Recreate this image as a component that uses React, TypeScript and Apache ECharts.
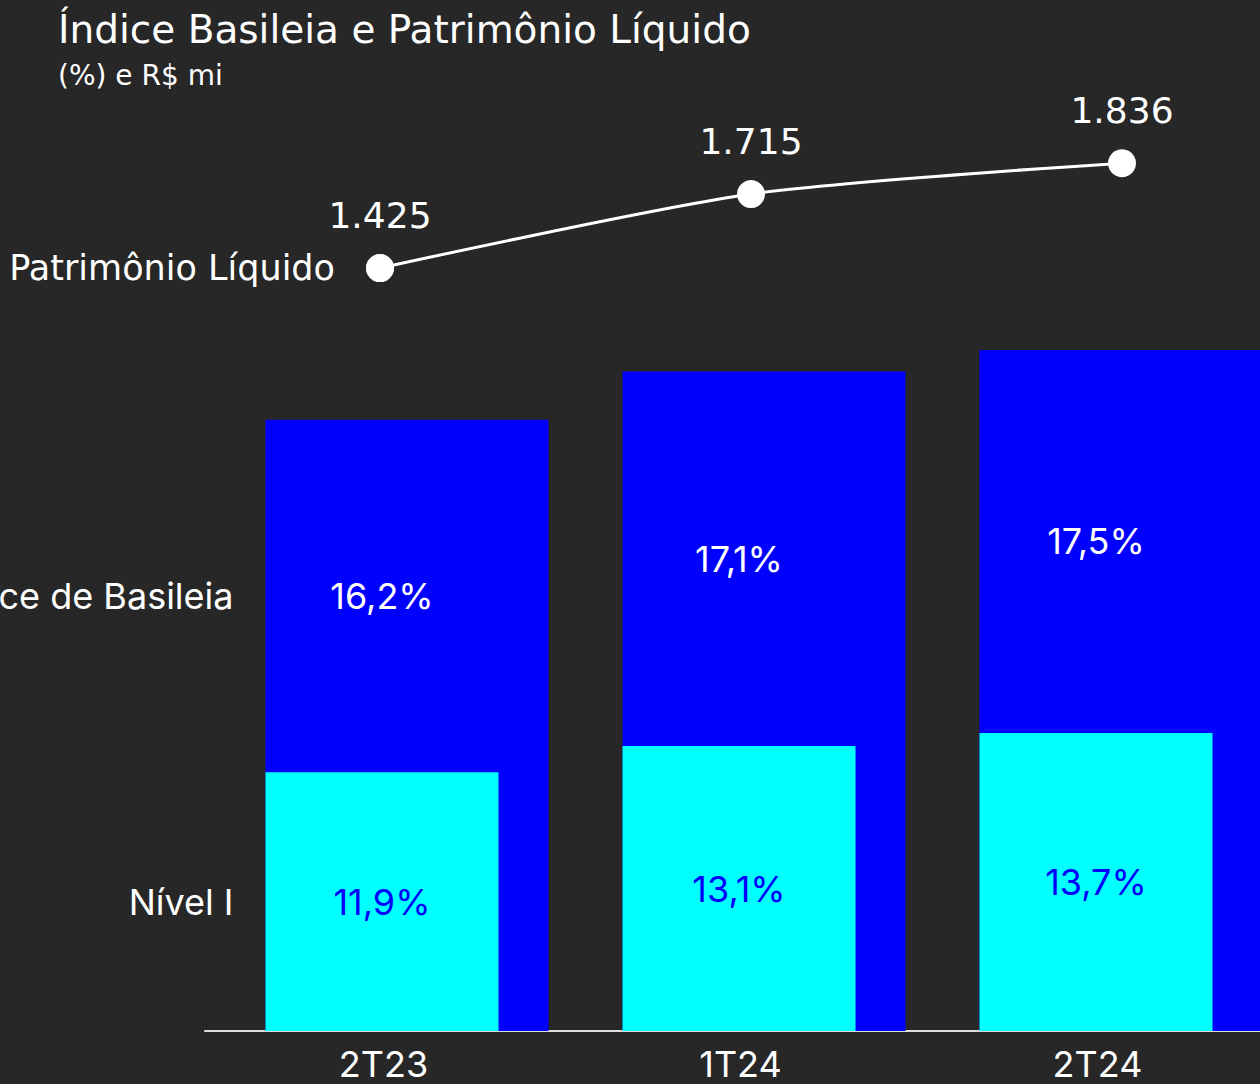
import React, { useEffect, useRef } from "react";
import * as echarts from "echarts";

const CATEGORIES = ["2T23", "1T24", "2T24"];
const SERIES_NAMES = ["Índice de Basileia", "Nível I", "Patrimônio Líquido"];
const BASILEIA = [16.2, 17.1, 17.5];
const NIVEL1 = [11.9, 13.1, 13.7];
const PATRIMONIO = [1425, 1715, 1836];
const TITLE = "Índice Basileia e Patrimônio Líquido";
const SUBTITLE = "(%) e R$ mi";

const BG = "#272727";
const BLUE = "#0000ff";
const CYAN = "#00ffff";
const FONT = "Inter, 'Noto Sans', sans-serif";
const WIDE = "'DejaVu Sans', Inter, sans-serif";

const BLUE_W = 283;
const CYAN_W = 233;
const BLUE_MIN = 4.84;
const BLUE_MAX = 18;
const CYAN_MAX = 32.55;

const fmtPct = (v: number) => v.toFixed(1).replace(".", ",") + "%";
const fmtThousands = (v: number) =>
  String(Math.round(v)).replace(/\B(?=(\d{3})+(?!\d))/g, ".");

export default function App() {
  const ref = useRef<HTMLDivElement>(null);
  useEffect(() => {
    document.body.style.margin = "0";
    document.body.style.background = BG;
    document.body.style.overflow = "hidden";
    document.documentElement.style.overflow = "hidden";
    const chart = echarts.init(ref.current!, undefined, { renderer: "svg" });
    const labelData = CATEGORIES.map((_, i) => [i, BASILEIA[i], NIVEL1[i]]);
    chart.setOption({
      animation: false,
      backgroundColor: BG,
      title: {
        text: TITLE,
        subtext: SUBTITLE,
        left: 53,
        top: 5,
        itemGap: 12,
        textStyle: { color: "#ffffff", fontFamily: WIDE, fontSize: 39, fontWeight: "normal" },
        subtextStyle: { color: "#ffffff", fontFamily: WIDE, fontSize: 28 },
      },
      grid: [
        { left: 228.5, width: 1071, top: 323, height: 708 },
        { left: 205, width: 1071, top: 323, height: 708 },
        { left: 380, width: 742, top: 146.8, height: 153.1 },
      ],
      xAxis: [
        { type: "category", gridIndex: 0, data: CATEGORIES, show: false },
        {
          type: "category",
          gridIndex: 1,
          data: CATEGORIES,
          axisLine: { show: true, lineStyle: { color: "#dddddd", width: 2 } },
          axisTick: { show: false },
          axisLabel: { color: "#ffffff", fontFamily: FONT, fontSize: 36, margin: 15 },
        },
        { type: "category", gridIndex: 2, data: CATEGORIES, show: false, boundaryGap: false },
      ],
      yAxis: [
        { type: "value", gridIndex: 0, min: BLUE_MIN, max: BLUE_MAX, show: false },
        { type: "value", gridIndex: 0, min: 0, max: CYAN_MAX, show: false },
        { type: "value", gridIndex: 1, min: 0, max: 1, show: false },
        { type: "value", gridIndex: 2, min: 1300, max: 1900, show: false },
      ],
      series: [
        {
          name: SERIES_NAMES[1],
          type: "bar",
          xAxisIndex: 0,
          yAxisIndex: 1,
          data: NIVEL1,
          barWidth: CYAN_W,
          barGap: "-100%",
          z: 3,
          itemStyle: { color: CYAN },
          label: {
            show: true,
            position: "inside",
            color: BLUE,
            fontFamily: FONT,
            fontSize: 36,
            formatter: (p: any) => fmtPct(p.value),
          },
        },
        {
          name: SERIES_NAMES[0],
          type: "bar",
          xAxisIndex: 0,
          yAxisIndex: 0,
          data: BASILEIA,
          barWidth: BLUE_W,
          barGap: "-100%",
          z: 2,
          itemStyle: { color: BLUE },
        },
        {
          type: "custom",
          xAxisIndex: 0,
          yAxisIndex: 0,
          z: 5,
          data: labelData,
          renderItem: (params: any, api: any) => {
            const i = api.value(0);
            const b = api.value(1);
            const c = api.value(2);
            const cs = params.coordSys;
            const bottom = cs.y + cs.height;
            const pt = api.coord([i, b]);
            const topB = pt[1];
            const topC = bottom - (c / CYAN_MAX) * cs.height;
            const barLeft = pt[0] - BLUE_W / 2;
            const cx = barLeft + CYAN_W / 2;
            const children: any[] = [
              {
                type: "text",
                x: cx,
                y: (topB + topC) / 2,
                style: {
                  text: fmtPct(b),
                  fill: "#ffffff",
                  font: `36px ${FONT}`,
                  align: "center",
                  verticalAlign: "middle",
                },
              },
            ];
            if (params.dataIndex === 0) {
              children.push(
                {
                  type: "text",
                  x: barLeft - 32,
                  y: (topB + topC) / 2,
                  style: {
                    text: SERIES_NAMES[0],
                    fill: "#ffffff",
                    font: `36px ${FONT}`,
                    align: "right",
                    verticalAlign: "middle",
                  },
                },
                {
                  type: "text",
                  x: barLeft - 32,
                  y: (topC + bottom) / 2,
                  style: {
                    text: SERIES_NAMES[1],
                    fill: "#ffffff",
                    font: `36px ${FONT}`,
                    align: "right",
                    verticalAlign: "middle",
                  },
                }
              );
            }
            return { type: "group", children };
          },
        },
        {
          name: SERIES_NAMES[2],
          type: "line",
          xAxisIndex: 2,
          yAxisIndex: 3,
          data: PATRIMONIO,
          smooth: 0.25,
          symbol: "circle",
          symbolSize: 28,
          z: 4,
          lineStyle: { color: "#ffffff", width: 3 },
          itemStyle: { color: "#ffffff" },
          label: {
            show: true,
            position: "top",
            distance: 21,
            color: "#ffffff",
            fontFamily: WIDE,
            fontSize: 36,
            formatter: (p: any) => fmtThousands(p.value),
          },
        },
        {
          name: SERIES_NAMES[2],
          type: "scatter",
          xAxisIndex: 2,
          yAxisIndex: 3,
          data: [[0, PATRIMONIO[0]]],
          symbolSize: 28,
          z: 4,
          itemStyle: { color: "#ffffff", opacity: 1 },
          label: {
            show: true,
            position: "left",
            distance: 31,
            color: "#ffffff",
            opacity: 1,
            fontFamily: WIDE,
            fontSize: 35,
            formatter: (p: any) => p.seriesName,
          },
        },
      ],
    });
    return () => chart.dispose();
  }, []);
  return <div ref={ref} style={{ width: 1320, height: 1084 }} />;
}
